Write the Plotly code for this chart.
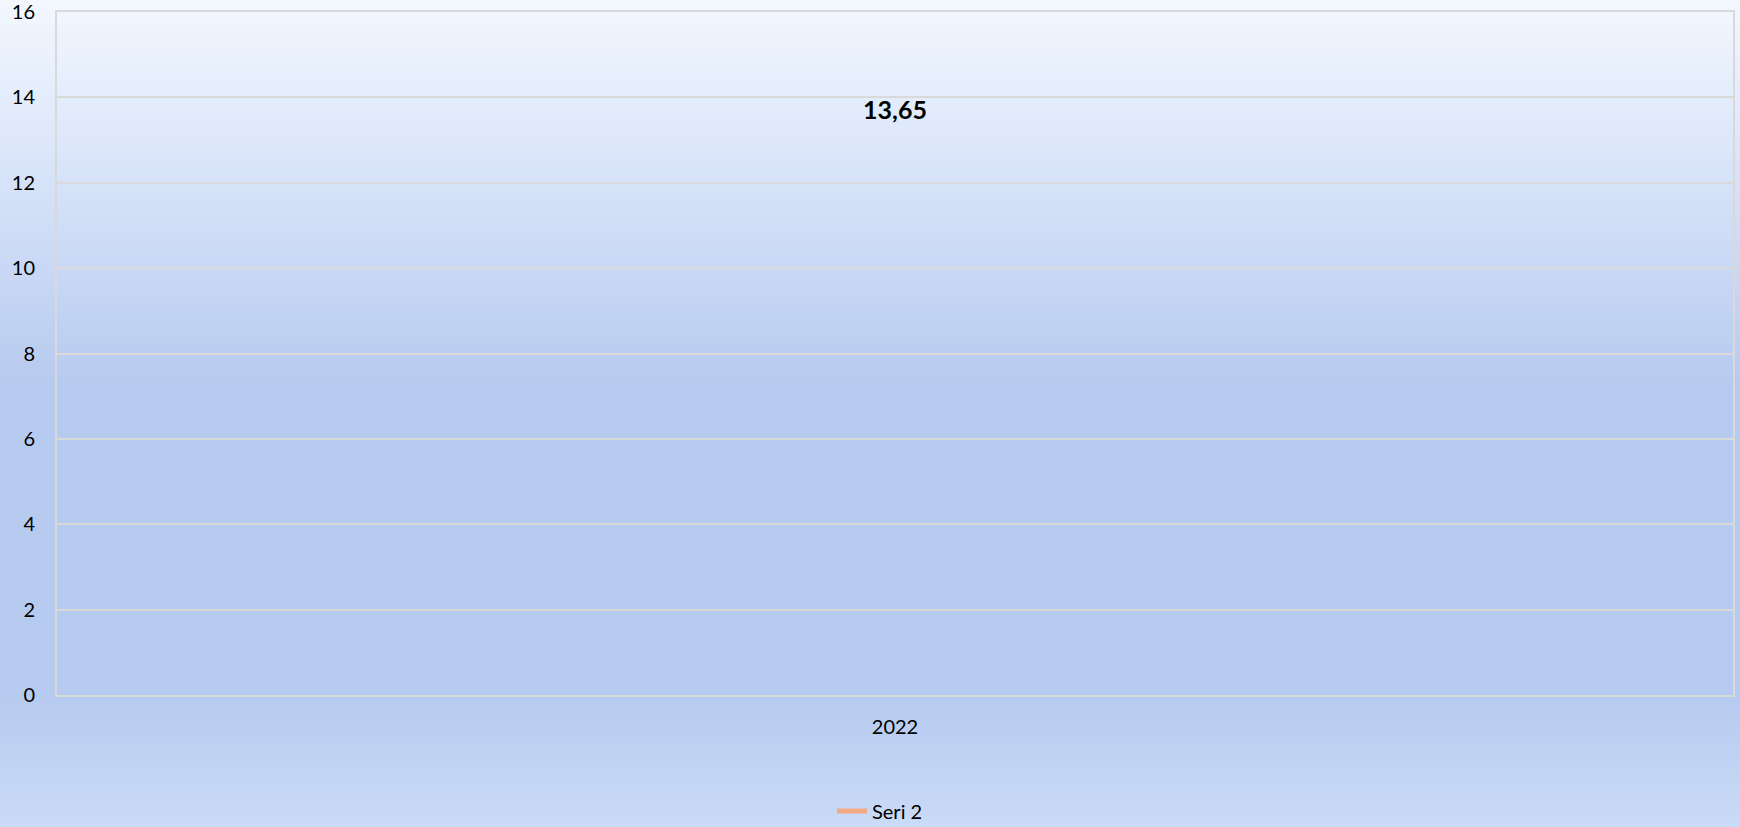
import plotly.graph_objects as go

categories = ["2022"]
seri2_values = [13.65]
seri2_labels = ["13,65"]
y_ticks = [0, 2, 4, 6, 8, 10, 12, 14, 16]

W, H = 1740, 827
L, R, T, B = 57, 7, 12, 132
pw, ph = W - L - R, H - T - B
FONT = "Lato, Open Sans, sans-serif"

fig = go.Figure()
fig.add_trace(go.Scatter(
    x=categories, y=seri2_values, name="Seri 2",
    mode="lines+text", text=seri2_labels, textposition="middle center",
    textfont=dict(family=FONT, size=25, color="#000000", weight="bold"),
    line=dict(color="#F5A886", width=5),
    showlegend=True,
))

def px2py(yp):
    return (H - B - yp) / ph

def lerp(c1, c2, t):
    return tuple(round(a + (b - a) * t) for a, b in zip(c1, c2))

stops = [(0, (243, 248, 255)), (380, (183, 203, 240)), (700, (183, 203, 240)), (827, (202, 219, 247))]
shapes = []
step = 6
for y0 in range(-12, H + 12, step):
    ym = min(max(y0 + step / 2, 0), H)
    for i in range(len(stops) - 1):
        if stops[i][0] <= ym <= stops[i + 1][0]:
            t = (ym - stops[i][0]) / (stops[i + 1][0] - stops[i][0])
            c = lerp(stops[i][1], stops[i + 1][1], t)
            break
    shapes.append(dict(type="rect", xref="paper", yref="paper", layer="below",
                       x0=-L / pw - 0.02, x1=1 + R / pw + 0.02,
                       y0=px2py(y0 + step + 1), y1=px2py(y0),
                       fillcolor="rgb(%d,%d,%d)" % c, line=dict(width=0)))

fig.update_layout(
    width=W, height=H, autosize=False,
    margin=dict(l=L, r=R, t=T, b=B, autoexpand=False),
    paper_bgcolor="#B7CBF0",
    plot_bgcolor="rgba(0,0,0,0)",
    shapes=shapes,
    font=dict(family=FONT, size=20, color="#000000"),
    showlegend=True,
    legend=dict(orientation="h", x=(832 - L) / pw, xanchor="left", y=px2py(811), yanchor="middle",
                font=dict(size=20), bgcolor="rgba(0,0,0,0)"),
)
fig.update_xaxes(type="category", range=[-0.5, 0.5], showgrid=False, automargin=False,
                 showline=True, linecolor="#D9D9D9", linewidth=2, mirror=True,
                 ticks="", ticklabelstandoff=13, tickfont=dict(size=20))
fig.update_yaxes(range=[0, 16], tickvals=y_ticks, showgrid=True, gridcolor="#D9D9D9", gridwidth=2,
                 automargin=False, ticklabeloverflow="allow",
                 showline=True, linecolor="#D9D9D9", linewidth=2, mirror=True, zeroline=False,
                 ticks="", ticklabelstandoff=16, tickfont=dict(size=20))

fig.write_html("out.html", config={"responsive": False, "displayModeBar": False},
               post_script="document.body.style.margin='0';document.body.style.background='#B7CBF0';")
